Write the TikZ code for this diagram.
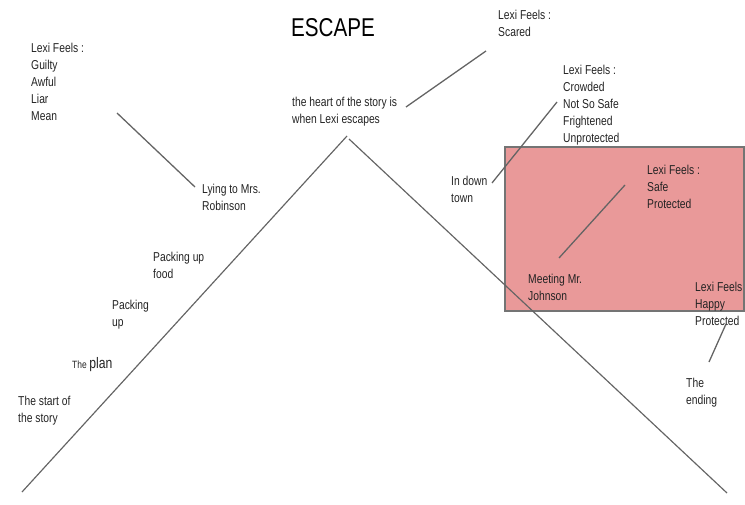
\documentclass[tikz,border=0pt]{standalone}
\usepackage{fontspec}
\setmainfont{Liberation Sans}[FakeStretch=0.8]
\usepackage{tikz}
\usetikzlibrary{positioning}

\definecolor{boxpink}{RGB}{233,153,153}
\definecolor{linegray}{RGB}{100,100,100}
\definecolor{inkgray}{RGB}{35,35,35}

\tikzset{
    lbl/.style={anchor=north west, align=left, inner sep=0pt, text=inkgray,
        font=\fontsize{11}{14.5}\selectfont},
    pointer/.style={draw=linegray, line width=1.1pt},
    arc/.style={draw=linegray, line width=1pt}
}

\begin{document}
\begin{tikzpicture}[x=0.03cm, y=-0.03cm]
    \useasboundingbox (0,0) rectangle (745,505);

    % Safe zone box
    \draw[fill=boxpink, draw=linegray!90, line width=1.4pt] (505,147) rectangle (744,311);

    % Story mountain
    \coordinate (start) at (22,492);
    \coordinate (peakL) at (347,136);
    \coordinate (peakR) at (349,139);
    \coordinate (finish) at (727,493);
    \draw[arc] (start) -- (peakL);
    \draw[arc] (peakR) -- (finish);

    % Title
    \node[anchor=north, inner sep=0pt, text=black,
        font=\fontsize{22}{24}\selectfont] (escapeTitle) at (333,18) {ESCAPE};

    % --- Rising action ---
    \node[lbl] (feelGuilty) at (31,43) {Lexi Feels :\\Guilty\\Awful\\Liar\\Mean};
    \node[lbl] (lying) at (202,184) {Lying to Mrs.\\Robinson};
    \node[lbl] (packFood) at (153,252) {Packing up\\food};
    \node[lbl] (packing) at (112,300) {Packing\\up};
    \node[anchor=base west, inner sep=0pt, text=inkgray] (plan) at (72,368)
        {{\fontsize{9}{10}\selectfont The} {\fontsize{13}{15}\selectfont plan}};
    \node[lbl] (storyStart) at (18,396) {The start of\\the story};

    % --- Climax ---
    \node[lbl] (heart) at (292,97) {the heart of the story is\\when Lexi escapes};
    \node[lbl] (feelScared) at (498,10) {Lexi Feels :\\Scared};

    % --- Falling action ---
    \node[lbl] (downtown) at (451,176) {In down\\town};
    \node[lbl] (feelCrowded) at (563,65) {Lexi Feels :\\Crowded\\Not So Safe\\Frightened\\Unprotected};
    \node[lbl] (meeting) at (528,274) {Meeting Mr.\\Johnson};
    \node[lbl] (feelSafe) at (647,165) {Lexi Feels :\\Safe\\Protected};
    \node[lbl] (feelHappy) at (695,282) {Lexi Feels\\Happy\\Protected};
    \node[lbl] (ending) at (686,378) {The\\ending};

    % pointer ends
    \coordinate (guiltyTip) at (117,113);
    \coordinate (lyingTip) at (195,187);
    \coordinate (heartTip) at (406,107);
    \coordinate (scaredTip) at (486,51);
    \coordinate (downTip) at (492,183);
    \coordinate (crowdedTip) at (557,102);
    \coordinate (meetTip) at (559,258);
    \coordinate (safeTip) at (625,185);
    \coordinate (endTip) at (709,362);
    \coordinate (happyTip) at (726,324);

    \draw[pointer] (guiltyTip) -- (lyingTip);
    \draw[pointer] (heartTip) -- (scaredTip);
    \draw[pointer] (downTip) -- (crowdedTip);
    \draw[pointer] (meetTip) -- (safeTip);
    \draw[pointer] (endTip) -- (happyTip);

\end{tikzpicture}
\end{document}
